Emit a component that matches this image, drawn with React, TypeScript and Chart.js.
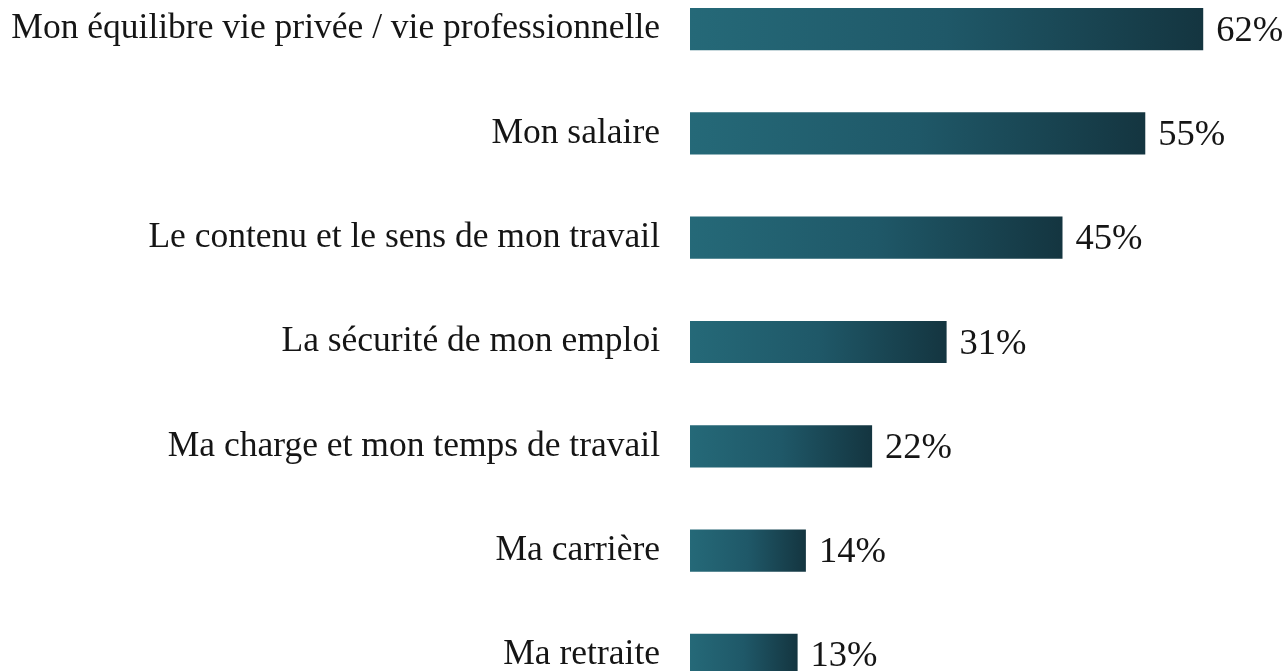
import React, { useEffect, useRef } from "react";
import { Chart, registerables } from "chart.js";

Chart.register(...registerables);

const categories = [
  "Mon équilibre vie privée / vie professionnelle",
  "Mon salaire",
  "Le contenu et le sens de mon travail",
  "La sécurité de mon emploi",
  "Ma charge et mon temps de travail",
  "Ma carrière",
  "Ma retraite",
];
const values = [62, 55, 45, 31, 22, 14, 13];
const valueLabels = ["62%", "55%", "45%", "31%", "22%", "14%", "13%"];

const FONT = "'Liberation Serif', 'Times New Roman', serif";

const valueLabelPlugin = {
  id: "valueLabels",
  afterDatasetsDraw(chart: any) {
    const ctx = chart.ctx;
    const meta = chart.getDatasetMeta(0);
    ctx.save();
    ctx.font = `36.5px ${FONT}`;
    ctx.fillStyle = "#151515";
    ctx.textAlign = "left";
    ctx.textBaseline = "middle";
    meta.data.forEach((el: any, i: number) => {
      ctx.fillText(valueLabels[i], el.x + 13, el.y + 2);
    });
    ctx.restore();
  },
};

export default function App() {
  const ref = useRef<HTMLCanvasElement>(null);
  useEffect(() => {
    const chart = new Chart(ref.current!, {
      type: "bar",
      data: {
        labels: categories,
        datasets: [
          {
            data: values,
            backgroundColor: (c: any) => {
              const ch = c.chart;
              if (!ch.chartArea || !ch.scales.x) return "#1d5563";
              const x0 = ch.scales.x.getPixelForValue(0);
              const v = c.parsed ? c.parsed.x : c.raw;
              const x1 = ch.scales.x.getPixelForValue(v);
              const g = ch.ctx.createLinearGradient(x0, 0, x1, 0);
              g.addColorStop(0, "#256978");
              g.addColorStop(0.5, "#1f5868");
              g.addColorStop(1, "#143540");
              return g;
            },
            borderWidth: 0,
            barPercentage: 0.405,
            categoryPercentage: 1,
          },
        ],
      },
      options: {
        indexAxis: "y",
        animation: false,
        responsive: false,
        maintainAspectRatio: false,
        layout: { padding: 0 },
        plugins: {
          legend: { display: false },
          tooltip: { enabled: false },
        },
        scales: {
          x: { display: false, min: 0, max: 72 },
          y: {
            grid: { display: false, drawTicks: false },
            border: { display: false },
            ticks: {
              font: { family: FONT, size: 35.5 },
              color: "#151515",
              padding: 30,
            },
            afterFit: (s: any) => {
              s.width = 690;
              s.paddingTop = 0;
              s.paddingBottom = 0;
            },
          },
        },
      },
      plugins: [valueLabelPlugin],
    } as any);
    return () => chart.destroy();
  }, []);
  return (
    <div
      style={{
        position: "fixed",
        left: 0,
        top: 0,
        width: 1286,
        height: 671,
        overflow: "hidden",
        background: "#fff",
      }}
    >
      <div style={{ position: "absolute", left: 0, top: -23, width: 1286, height: 730 }}>
        <canvas ref={ref} width={1286} height={730} style={{ display: "block" }} />
      </div>
    </div>
  );
}
